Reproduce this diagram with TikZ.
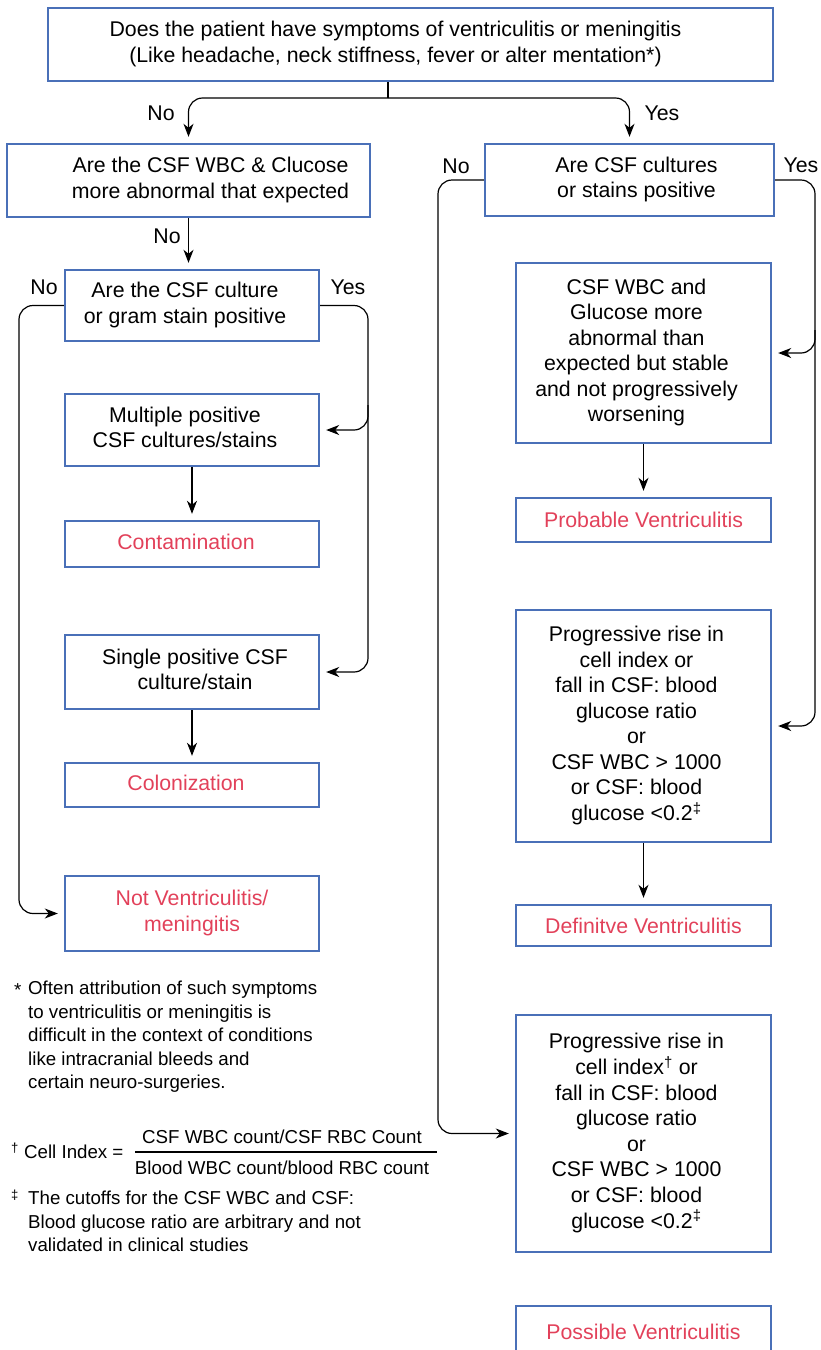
\documentclass[tikz,border=0pt]{standalone}
\usepackage{fontspec}
\setmainfont{Liberation Sans}
\usetikzlibrary{arrows.meta}
\definecolor{boxblue}{HTML}{4A70B8}
\definecolor{outred}{HTML}{E2415A}
\newcommand{\shiftR}[2]{\kern#1pt\begin{tabular}{@{}c@{}}#2\end{tabular}}
\newcommand{\shiftL}[2]{\begin{tabular}{@{}c@{}}#2\end{tabular}\kern#1pt}
\begin{document}
\begin{tikzpicture}[x=1pt,y=-1pt,
  every node/.style={font=\fontsize{21.3}{25.5}\selectfont, inner sep=0pt},
  box/.style={draw=boxblue, line width=2.4pt, rectangle},
  outcome/.style={box, text=outred},
  conn/.style={line width=1.2pt, draw=black, rounded corners=14pt},
  arr/.style={conn, -{Stealth[length=13pt,width=10pt,inset=4pt]}, shorten >=6pt},
  note/.style={font=\fontsize{18.7}{23.5}\selectfont}]
\useasboundingbox (0,0) rectangle (820,1350);
% boxes
\node[box, minimum width=725pt, minimum height=73pt] (top) at (410.5,44.5)
  {\shiftL{30}{Does the patient have symptoms of ventriculitis or meningitis\\(Like headache, neck stiffness, fever or alter mentation*)}};
\node[box, minimum width=363pt, minimum height=73pt] (A) at (188.5,180.5)
  {\shiftR{44}{Are the CSF WBC \& Clucose\\more abnormal that expected}};
\node[box, minimum width=289pt, minimum height=72pt] (B) at (629.5,180)
  {\shiftR{14}{Are CSF cultures\\or stains positive}};
\node[box, minimum width=254pt, minimum height=71pt] (D) at (192,305.5)
  {\shiftL{14}{Are the CSF culture\\or gram stain positive}};
\node[box, minimum width=254pt, minimum height=72pt] (multi) at (192,430)
  {\shiftL{14}{Multiple positive\\CSF cultures/stains}};
\node[outcome, minimum width=254pt, minimum height=46pt] (contam) at (192,544)
  {\shiftL{12}{Contamination}};
\node[box, minimum width=254pt, minimum height=74pt] (single) at (192,672)
  {\shiftR{6}{Single positive CSF\\culture/stain}};
\node[outcome, minimum width=254pt, minimum height=44pt] (colon) at (192,785)
  {\shiftL{12}{Colonization}};
\node[outcome, minimum width=254pt, minimum height=75pt] (notv) at (192,913.5)
  {\shiftR{0}{Not Ventriculitis/\\meningitis}};
\node[box, minimum width=255pt, minimum height=180pt] (C) at (643.5,353)
  {\shiftL{14}{CSF WBC and\\Glucose more\\abnormal than\\expected but stable\\and not progressively\\worsening}};
\node[outcome, minimum width=255pt, minimum height=44pt] (prob) at (643.5,520)
  {Probable Ventriculitis};
\node[box, minimum width=255pt, minimum height=232pt] (E) at (643.5,726)
  {\shiftL{14}{Progressive rise in\\cell index or\\fall in CSF: blood\\glucose ratio\\or\\CSF WBC > 1000\\or CSF: blood\\glucose <0.2\textsuperscript{‡}}};
\node[outcome, minimum width=255pt, minimum height=41pt] (def) at (643.5,925.5)
  {Definitve Ventriculitis};
\node[box, minimum width=255pt, minimum height=237pt] (F) at (643.5,1133.5)
  {\shiftL{14}{Progressive rise in\\cell index\textsuperscript{†} or\\fall in CSF: blood\\glucose ratio\\or\\CSF WBC > 1000\\or CSF: blood\\glucose <0.2\textsuperscript{‡}}};
\node[outcome, minimum width=255pt, minimum height=52pt] (poss) at (643.5,1332)
  {Possible Ventriculitis};
% labels
\node (lNo1) at (161,113) {No};
\node (lYes1) at (662,113) {Yes};
\node (lNo2) at (167,236) {No};
\node (lNo3) at (44,287) {No};
\node (lYes3) at (348,287) {Yes};
\node (lNo4) at (456,166) {No};
\node (lYes4) at (801,165) {Yes};
% connectors
\coordinate (split) at (388,98);
\draw[conn] (split |- top.south) -- (split);
\draw[arr] (split) -| (A.north);
\draw[arr] (split) -| (B.north);
\draw[arr] (A.south) -- (A.south |- D.north);
\coordinate (dl) at (19,305.5);
\draw[arr] (D.west) -| (dl |- notv.west) -- (notv.west);
\coordinate (dr) at (368,305.5);
\draw[arr] (D.east) -| (dr |- single.east) -- (single.east);
\coordinate (dbr) at (368,405);
\draw[arr] (dbr) |- (multi.east);
\draw[arr] (multi.south) -- (contam.north);
\draw[arr] (single.south) -- (colon.north);
\coordinate (bl) at (438,180);
\draw[arr] (B.west) -| (bl |- F.west) -- (F.west);
\coordinate (br) at (815,180);
\draw[arr] (B.east) -| (br |- E.east) -- (E.east);
\coordinate (bbr) at (815,330);
\draw[arr] (bbr) |- (C.east);
\draw[arr] (C.south) -- (prob.north);
\draw[arr] (E.south) -- (def.north);
% footnotes
\node[note, anchor=west] (m1) at (14,990) {*};
\node[note, anchor=north west] (fn1) at (28,978)
  {\begin{tabular}{@{}l@{}}Often attribution of such symptoms\\to ventriculitis or meningitis is\\difficult in the context of conditions\\like intracranial bleeds and\\certain neuro-surgeries.\end{tabular}};
\node[note, anchor=west] (ci) at (11,1151) {\textsuperscript{†} Cell Index =};
\node[note] (num) at (282,1137) {CSF WBC count/CSF RBC Count};
\node[note] (den) at (282,1168) {Blood WBC count/blood RBC count};
\coordinate (barL) at (135,1152);
\coordinate (barR) at (437,1152);
\draw[line width=2pt] (barL) -- (barR);
\node[note, anchor=west] (m3) at (11,1198) {\textsuperscript{‡}};
\node[note, anchor=north west] (fn3) at (28,1188)
  {\begin{tabular}{@{}l@{}}The cutoffs for the CSF WBC and CSF:\\Blood glucose ratio are arbitrary and not\\validated in clinical studies\end{tabular}};
\end{tikzpicture}
\end{document}
